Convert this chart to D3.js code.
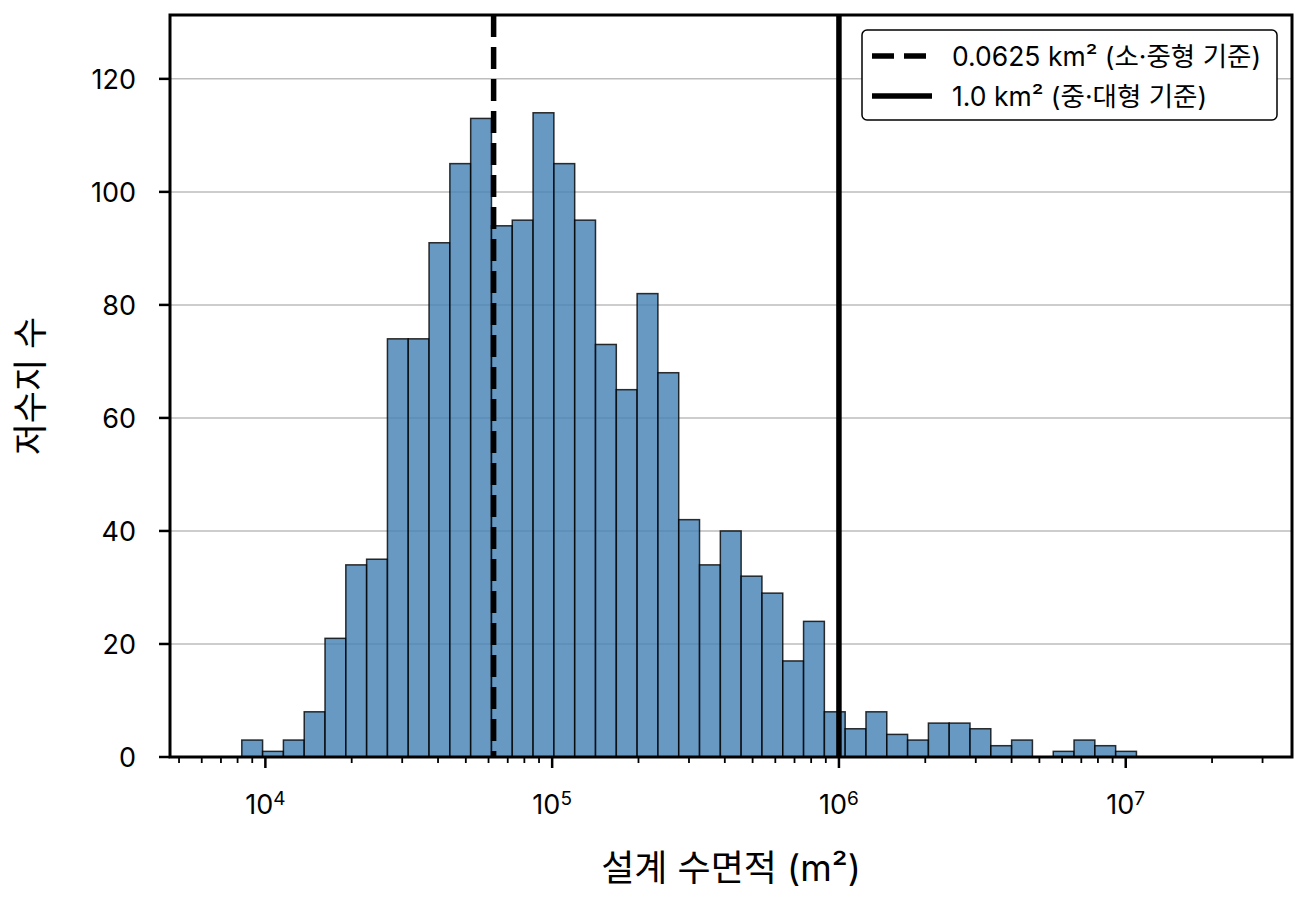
<!DOCTYPE html>
<html>
<head>
<meta charset="utf-8">
<title>설계 수면적 분포</title>
<style>
body { margin: 0; background: #fff; }
svg text { font-family: Inter, "Noto Sans CJK KR", sans-serif; fill: #000; }
.grid line { stroke: #bdbdbd; stroke-width: 1.5; }
.bar { fill: rgb(70, 130, 180); fill-opacity: 0.82; stroke: #000; stroke-opacity: 0.8; stroke-width: 1.5; }
</style>
</head>
<body>
<script src="https://cdn.jsdelivr.net/npm/d3@7"></script>
<script>

// histogram counts per log-spaced bin
var counts = [3, 1, 3, 8, 21, 34, 35, 74, 74, 91, 105, 113, 94, 95, 114, 105, 95, 73, 65, 82,
              68, 42, 34, 40, 32, 29, 17, 24, 8, 5, 8, 4, 3, 6, 6, 5, 2, 3, 0, 1, 3, 2, 1];
// first and last bin edge (m²)
var binRange = [8275, 1.09e7];
// reference lines (m²)
var refValues = [62500, 1000000];
var refLabels = ["0.0625 km² (소·중형 기준)", "1.0 km² (중·대형 기준)"];
var xTickExps = [4, 5, 6, 7];
var yTicks = [0, 20, 40, 60, 80, 100, 120];

var W = 1307, H = 906;
var margin = {top: 15, right: 15, bottom: 149, left: 170},
    width = W - margin.left - margin.right,
    height = H - margin.top - margin.bottom;

// bin edges, log spaced between the two range values
var n = counts.length,
    lo = Math.log10(binRange[0]), hi = Math.log10(binRange[1]);
var bins = counts.map(function(c, i) {
  return {x0: Math.pow(10, lo + (hi - lo) * i / n),
          x1: Math.pow(10, lo + (hi - lo) * (i + 1) / n),
          count: c};
});

var x = d3.scaleLog().domain([4650, 3.8e7]).range([0, width]);
var y = d3.scaleLinear().domain([0, 131.3]).range([height, 0]);

var svg = d3.select("body").append("svg")
    .attr("width", W)
    .attr("height", H)
  .append("g")
    .attr("transform", "translate(" + margin.left + "," + margin.top + ")");

// horizontal grid
svg.append("g")
    .attr("class", "grid")
    .selectAll("line")
    .data(yTicks.slice(1))
  .enter().append("line")
    .attr("x1", 0).attr("x2", width)
    .attr("y1", function(d) { return y(d); })
    .attr("y2", function(d) { return y(d); });

// bars
svg.selectAll(".bar")
    .data(bins.filter(function(d) { return d.count > 0; }))
  .enter().append("rect")
    .attr("class", "bar")
    .attr("x", function(d) { return x(d.x0); })
    .attr("width", function(d) { return x(d.x1) - x(d.x0); })
    .attr("y", function(d) { return y(d.count); })
    .attr("height", function(d) { return height - y(d.count); });

// reference lines
var lineStyles = [{dash: "22,10"}, {dash: null}];
svg.selectAll(".ref")
    .data(refValues)
  .enter().append("line")
    .attr("class", "ref")
    .attr("x1", function(d) { return x(d); })
    .attr("x2", function(d) { return x(d); })
    .attr("y1", 0).attr("y2", height)
    .attr("stroke", "#000")
    .attr("stroke-width", 5.5)
    .attr("stroke-dasharray", function(d, i) { return lineStyles[i].dash; });

// x axis: major ticks with 10^n labels, minor log ticks
var xAxis = svg.append("g").attr("transform", "translate(0," + height + ")");
var minor = [];
d3.range(3, 8).forEach(function(e) {
  for (var m = 2; m <= 9; m++) {
    var v = m * Math.pow(10, e);
    if (v >= x.domain()[0] && v <= x.domain()[1]) minor.push(v);
  }
});
xAxis.selectAll(".minor")
    .data(minor)
  .enter().append("line")
    .attr("x1", function(d) { return x(d); })
    .attr("x2", function(d) { return x(d); })
    .attr("y1", 0).attr("y2", 6)
    .attr("stroke", "#000").attr("stroke-width", 1.8);
xAxis.selectAll(".major")
    .data(xTickExps)
  .enter().append("line")
    .attr("x1", function(d) { return x(Math.pow(10, d)); })
    .attr("x2", function(d) { return x(Math.pow(10, d)); })
    .attr("y1", 0).attr("y2", 11)
    .attr("stroke", "#000").attr("stroke-width", 2.5);
var xl = xAxis.selectAll(".xlab")
    .data(xTickExps)
  .enter().append("text")
    .attr("x", function(d) { return x(Math.pow(10, d)); })
    .attr("y", 57)
    .attr("text-anchor", "middle")
    .style("font-size", "27px");
xl.append("tspan").text("10");
xl.append("tspan")
    .attr("dy", "-0.45em")
    .style("font-size", "19px")
    .text(function(d) { return d; });

// y axis
var yAxis = svg.append("g");
yAxis.selectAll("line")
    .data(yTicks)
  .enter().append("line")
    .attr("x1", -11).attr("x2", 0)
    .attr("y1", function(d) { return y(d); })
    .attr("y2", function(d) { return y(d); })
    .attr("stroke", "#000").attr("stroke-width", 2.5);
yAxis.selectAll("text")
    .data(yTicks)
  .enter().append("text")
    .attr("x", -34)
    .attr("y", function(d) { return y(d); })
    .attr("dy", "0.36em")
    .attr("text-anchor", "end")
    .style("font-size", "27px")
    .text(function(d) { return d; });

// frame
svg.append("rect")
    .attr("width", width).attr("height", height)
    .attr("fill", "none")
    .attr("stroke", "#000")
    .attr("stroke-width", 3);

// axis titles
svg.append("text")
    .attr("x", width / 2)
    .attr("y", height + 124)
    .attr("text-anchor", "middle")
    .style("font-size", "36px")
    .text("설계 수면적 (m²)");
svg.append("text")
    .attr("transform", "translate(" + (-127) + "," + (height / 2) + ")rotate(-90)")
    .attr("text-anchor", "middle")
    .style("font-size", "35px")
    .text("저수지 수");

// legend
var legend = svg.append("g")
    .attr("transform", "translate(" + (width - 430) + ",15)");
legend.append("rect")
    .attr("width", 415).attr("height", 90)
    .attr("rx", 5)
    .attr("fill", "#fff")
    .attr("stroke", "#000")
    .attr("stroke-width", 1.5);
var items = legend.selectAll(".item")
    .data(refLabels)
  .enter().append("g")
    .attr("transform", function(d, i) { return "translate(0," + (26 + i * 40) + ")"; });
items.append("line")
    .attr("x1", 10).attr("x2", 70)
    .attr("stroke", "#000")
    .attr("stroke-width", 5.5)
    .attr("stroke-dasharray", function(d, i) { return lineStyles[i].dash; });
items.append("text")
    .attr("x", 90)
    .attr("dy", "0.36em")
    .style("font-size", "26.5px")
    .text(function(d) { return d; });

</script>
</body>
</html>
